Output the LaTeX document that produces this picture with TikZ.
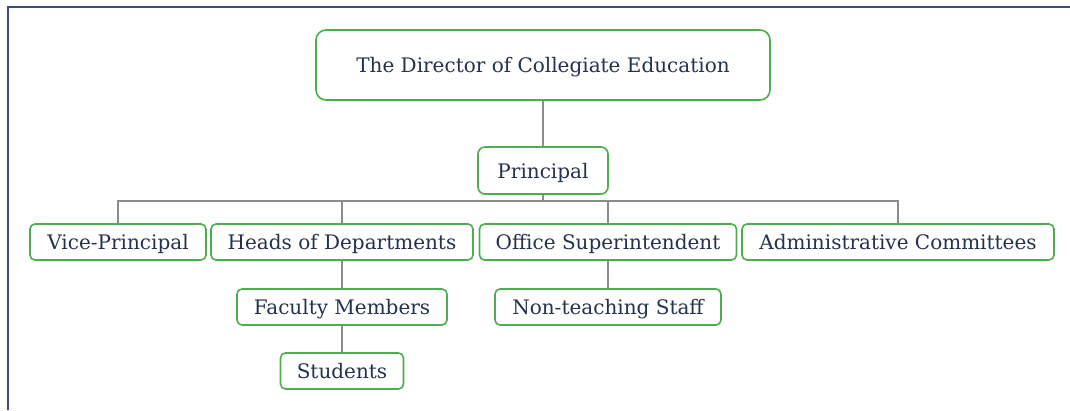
\documentclass[tikz,border=0pt]{standalone}
\usepackage{fontspec}
\setmainfont{DejaVu Serif}
\usetikzlibrary{positioning}
\definecolor{boxgreen}{HTML}{4CAE4F}
\definecolor{txtnavy}{HTML}{24324F}
\definecolor{linegray}{HTML}{8C8C8C}
\definecolor{framenavy}{HTML}{3E4B7C}
\tikzset{
  unit/.style={draw=boxgreen, line width=1.6pt, rounded corners=5pt, fill=white,
    text=txtnavy, font=\fontsize{20}{24}\selectfont, inner sep=0pt,
    text height=16.5pt, text depth=1.5pt, minimum height=36pt},
  link/.style={draw=linegray, line width=1.6pt}
}
\begin{document}
\begin{tikzpicture}[x=1pt, y=-1pt]
  \useasboundingbox (0,0) rectangle (1070,410);
  \draw[framenavy, line width=2.5pt] (8,410) -- (8,7) -- (1070,7);
  \node[unit, minimum width=454pt, minimum height=70pt, rounded corners=10pt] (dce) at (543,65) {The Director of Collegiate Education};
  \node[unit, minimum width=130pt, minimum height=47pt, rounded corners=7pt] (pr) at (543,170.5) {Principal};
  \node[unit, minimum width=176pt] (vp) at (118,242) {Vice-Principal};
  \node[unit, minimum width=262pt] (hod) at (342,242) {Heads of Departments};
  \node[unit, minimum width=257pt] (os) at (608,242) {Office Superintendent};
  \node[unit, minimum width=312pt] (ac) at (898,242) {Administrative Committees};
  \node[unit, minimum width=210pt] (fm) at (342,307) {Faculty Members};
  \node[unit, minimum width=123pt] (st) at (342,371) {Students};
  \node[unit, minimum width=226pt] (nts) at (608,307) {Non-teaching Staff};
  % tree lines
  \draw[link] (dce) -- (pr);
  \draw[link] (pr.south) -- ++(0,6) -| (vp.north);
  \draw[link] (pr.south) -- ++(0,6) -| (hod.north);
  \draw[link] (pr.south) -- ++(0,6) -| (os.north);
  \draw[link] (pr.south) -- ++(0,6) -| (ac.north);
  \draw[link] (hod) -- (fm);
  \draw[link] (fm) -- (st);
  \draw[link] (os) -- (nts);
\end{tikzpicture}
\end{document}
